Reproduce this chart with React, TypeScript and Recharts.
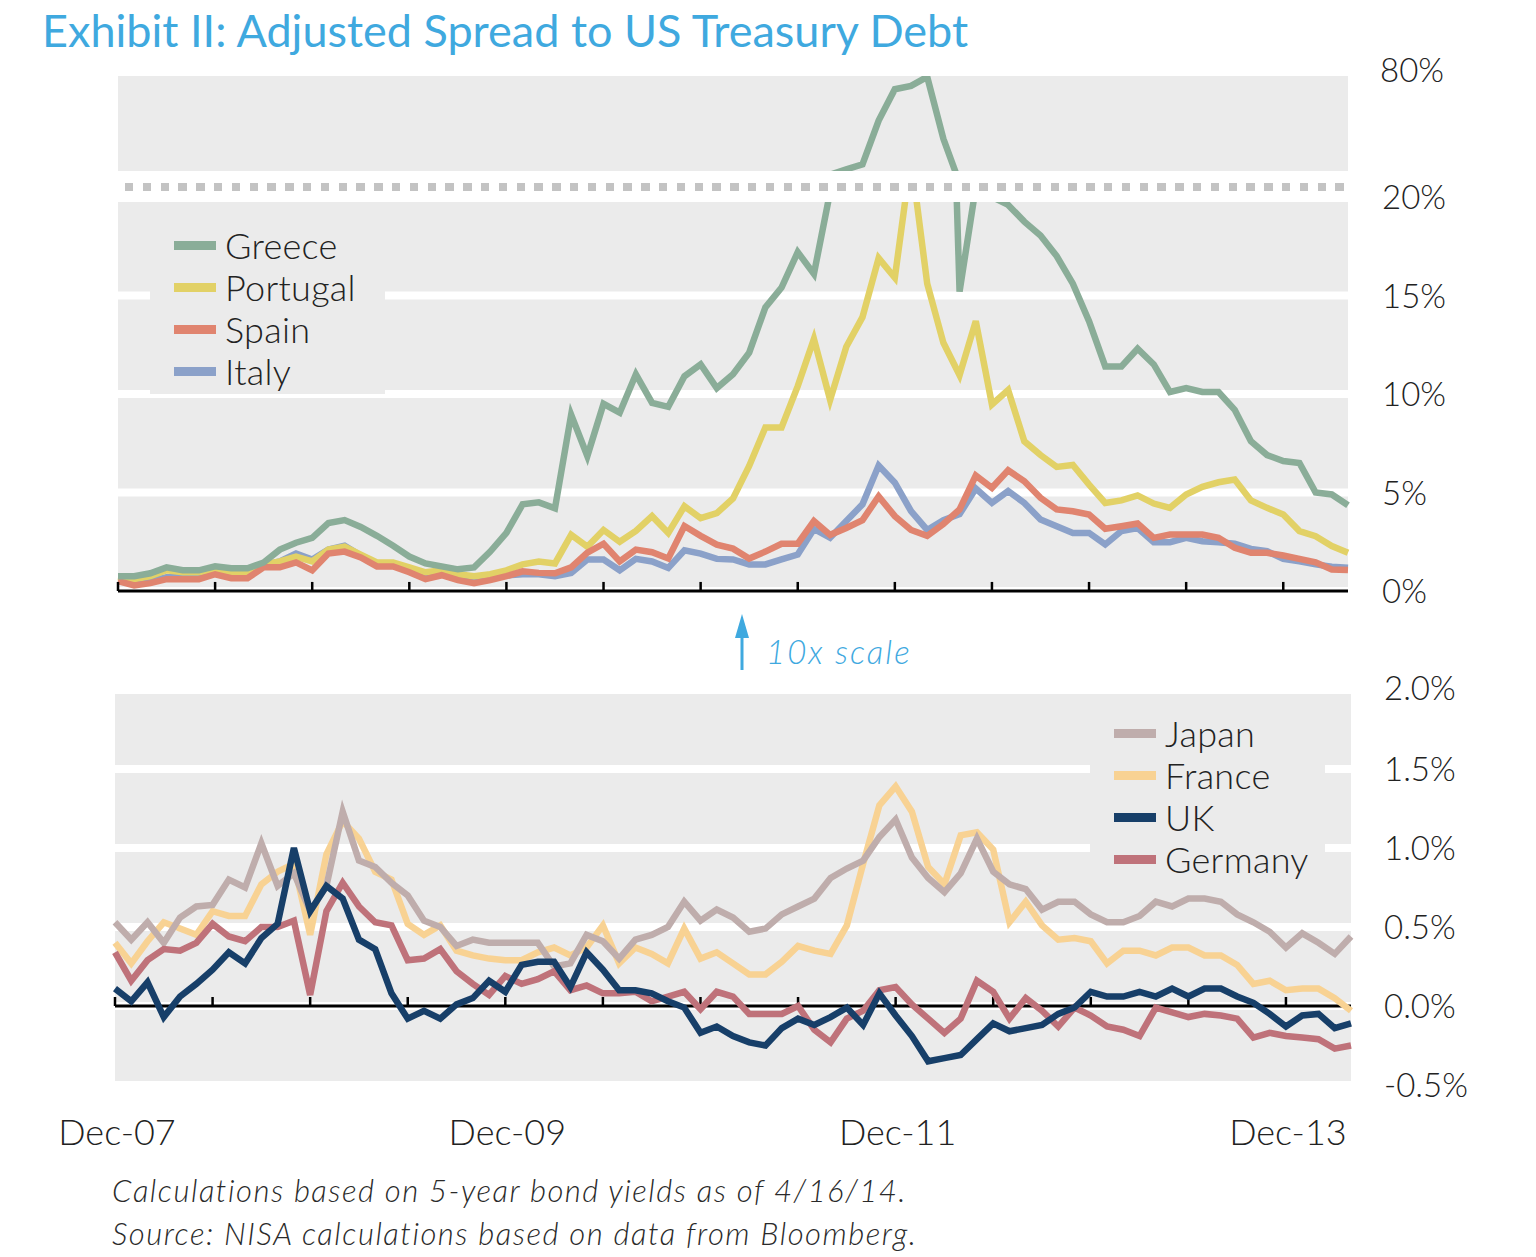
import React from 'react';
import { LineChart, Line, XAxis, YAxis, CartesianGrid, ReferenceLine, Legend } from 'recharts';

// monthly observations, Dec-07 (index 0) .. Apr-14 (index 76)
const xTickIdx = [0, 24, 48, 72];
const xTickLabels = ['Dec-07', 'Dec-09', 'Dec-11', 'Dec-13'];
const halfYearIdx = [0, 6, 12, 18, 24, 30, 36, 42, 48, 54, 60, 66, 72];

const topTicks = [0, 5, 10, 15, 20];
const breakTicks = [80];
const bottomTicks = [-0.5, 0, 0.5, 1, 1.5, 2];

// spreads in % (periphery)
const greece = [
  0.75, 0.75, 0.9, 1.2, 1.05, 1.05, 1.25, 1.15, 1.15, 1.45,
  2.1, 2.45, 2.7, 3.45, 3.6, 3.25, 2.8, 2.3, 1.75, 1.4,
  1.25, 1.1, 1.2, 2.0, 2.95, 4.4, 4.5, 4.2, 8.95, 6.85,
  9.5, 9.05, 11.0, 9.55, 9.35, 10.9, 11.5, 10.3, 11.0, 12.1,
  14.4, 15.4, 17.2, 16.1, 20.25, 23.5, 26.5, 53, 72, 74,
  79.5, 42, 15.2, 20.5, 20.0, 19.6, 18.75, 18.05, 17.0, 15.6,
  13.7, 11.4, 11.4, 12.3, 11.5, 10.1, 10.3, 10.1, 10.1, 9.2,
  7.6, 6.9, 6.6, 6.5, 5.0, 4.9, 4.35,
];
const portugal = [
  0.7, 0.6, 0.75, 1.05, 0.95, 0.95, 1.1, 0.97, 0.97, 1.35,
  1.5, 1.75, 1.5, 2.1, 2.25, 1.85, 1.45, 1.45, 1.2, 0.95,
  1.05, 0.85, 0.75, 0.85, 1.05, 1.35, 1.5, 1.4, 2.85, 2.25,
  3.1, 2.5, 3.05, 3.8, 2.95, 4.3, 3.7, 3.95, 4.7, 6.35,
  8.3, 8.3, 10.4, 12.8, 9.7, 12.4, 13.9, 16.9, 15.9, 22,
  15.6, 12.6, 10.95, 13.7, 9.47, 10.2, 7.6, 6.9, 6.3, 6.4,
  5.4, 4.47, 4.6, 4.85, 4.44, 4.22, 4.9, 5.29, 5.52, 5.66,
  4.6, 4.22, 3.88, 3.04, 2.78, 2.28, 1.94,
];
const spain = [
  0.5, 0.28, 0.4, 0.6, 0.6, 0.6, 0.85, 0.65, 0.65, 1.2,
  1.2, 1.45, 1.05, 1.9, 2.0, 1.7, 1.25, 1.25, 0.95, 0.6,
  0.8, 0.55, 0.4, 0.55, 0.75, 1.0, 0.92, 0.9, 1.2, 1.95,
  2.4, 1.5, 2.1, 1.97, 1.65, 3.3, 2.8, 2.35, 2.15, 1.65,
  2.0, 2.4, 2.4, 3.55, 2.85, 3.2, 3.6, 4.8, 3.8, 3.1,
  2.8, 3.4, 4.14, 5.86, 5.24, 6.13, 5.57, 4.73, 4.14, 4.05,
  3.88, 3.16, 3.29, 3.43, 2.7, 2.87, 2.87, 2.87, 2.7, 2.19,
  1.94, 1.94, 1.8, 1.63, 1.46, 1.09, 1.06,
];
const italy = [
  0.5, 0.4, 0.5, 0.7, 0.7, 0.7, 0.9, 0.75, 0.75, 1.3,
  1.5, 1.9, 1.6, 2.1, 2.3, 1.8, 1.3, 1.3, 1.1, 0.8,
  0.9, 0.7, 0.6, 0.65, 0.8, 0.85, 0.85, 0.75, 0.92, 1.6,
  1.6, 1.05, 1.63, 1.5, 1.17, 2.07, 1.9, 1.63, 1.6, 1.35,
  1.35, 1.6, 1.85, 3.15, 2.7, 3.55, 4.4, 6.37, 5.5, 4.05,
  3.1, 3.6, 3.9, 5.2, 4.47, 5.07, 4.47, 3.63, 3.29, 2.95,
  2.95, 2.36, 3.04, 3.2, 2.48, 2.48, 2.7, 2.53, 2.48, 2.4,
  2.14, 2.02, 1.63, 1.51, 1.35, 1.23, 1.18,
];

// spreads in % (core)
const japan = [
  0.53, 0.42, 0.53, 0.4, 0.56, 0.63, 0.64, 0.8, 0.75, 1.03,
  0.76, 0.84, 0.6, 0.76, 1.23, 0.92, 0.88, 0.78, 0.7, 0.54,
  0.5, 0.38, 0.42, 0.4, 0.4, 0.4, 0.4, 0.25, 0.27, 0.45,
  0.41, 0.3, 0.42, 0.45, 0.5, 0.66, 0.54, 0.61, 0.56, 0.47,
  0.49, 0.58, 0.63, 0.68, 0.81, 0.87, 0.92, 1.07, 1.18, 0.94,
  0.81, 0.72, 0.84, 1.06, 0.85, 0.77, 0.74, 0.61, 0.66, 0.66,
  0.58, 0.53, 0.53, 0.57, 0.66, 0.63, 0.68, 0.68, 0.66, 0.58,
  0.53, 0.47, 0.37, 0.46, 0.4, 0.33, 0.44,
];
const france = [
  0.4, 0.27, 0.41, 0.53, 0.49, 0.45, 0.6, 0.57, 0.57, 0.77,
  0.85, 0.9, 0.45, 0.96, 1.17, 1.06, 0.85, 0.8, 0.52, 0.45,
  0.51, 0.35, 0.32, 0.3, 0.29, 0.29, 0.34, 0.37, 0.32, 0.37,
  0.51, 0.27, 0.37, 0.33, 0.27, 0.49, 0.3, 0.34, 0.27, 0.2,
  0.2, 0.28, 0.38, 0.35, 0.33, 0.51, 0.9, 1.27, 1.39, 1.23,
  0.88, 0.77, 1.08, 1.1, 0.99, 0.53, 0.66, 0.51, 0.42, 0.43,
  0.41, 0.27, 0.35, 0.35, 0.32, 0.37, 0.37, 0.32, 0.32, 0.26,
  0.14, 0.16, 0.1, 0.11, 0.11, 0.05, -0.03,
];
const uk = [
  0.11, 0.03, 0.15, -0.07, 0.06, 0.14, 0.23, 0.34, 0.27, 0.43,
  0.52, 1.0, 0.6, 0.76, 0.68, 0.42, 0.36, 0.08, -0.08, -0.03,
  -0.08, 0.01, 0.05, 0.16, 0.09, 0.26, 0.28, 0.28, 0.12, 0.34,
  0.23, 0.1, 0.1, 0.08, 0.03, -0.01, -0.17, -0.13, -0.19, -0.23,
  -0.25, -0.14, -0.08, -0.12, -0.07, -0.01, -0.12, 0.08, -0.06, -0.19,
  -0.35, -0.33, -0.31, -0.21, -0.11, -0.16, -0.14, -0.12, -0.05, -0.01,
  0.09, 0.06, 0.06, 0.09, 0.06, 0.11, 0.06, 0.11, 0.11, 0.06,
  0.02, -0.05, -0.13, -0.06, -0.05, -0.14, -0.11,
];
const germany = [
  0.34, 0.16, 0.29, 0.36, 0.35, 0.4, 0.52, 0.44, 0.41, 0.5,
  0.5, 0.54, 0.07, 0.6, 0.78, 0.63, 0.53, 0.51, 0.29, 0.3,
  0.36, 0.22, 0.14, 0.07, 0.19, 0.14, 0.17, 0.22, 0.1, 0.13,
  0.08, 0.08, 0.09, 0.03, 0.06, 0.09, -0.02, 0.09, 0.06, -0.05,
  -0.05, -0.05, 0, -0.15, -0.23, -0.08, -0.03, 0.1, 0.12, 0.01,
  -0.08, -0.17, -0.08, 0.16, 0.09, -0.08, 0.05, -0.03, -0.13, -0.01,
  -0.06, -0.13, -0.15, -0.19, -0.01, -0.04, -0.07, -0.05, -0.06, -0.08,
  -0.2, -0.17, -0.19, -0.2, -0.21, -0.27, -0.25,
];

const periphery = [
  { key: 'greece', name: 'Greece', color: '#8aad98' },
  { key: 'portugal', name: 'Portugal', color: '#e2d166' },
  { key: 'spain', name: 'Spain', color: '#e0846f' },
  { key: 'italy', name: 'Italy', color: '#8ba1c9' },
];
const core = [
  { key: 'japan', name: 'Japan', color: '#bfadac' },
  { key: 'france', name: 'France', color: '#f8d293' },
  { key: 'uk', name: 'UK', color: '#173f69' },
  { key: 'germany', name: 'Germany', color: '#bf727a' },
];

const rows = greece.map((g, i) => ({
  i,
  greece: g,
  portugal: portugal[i],
  spain: spain[i],
  italy: italy[i],
  japan: japan[i],
  france: france[i],
  uk: uk[i],
  germany: germany[i],
}));

const FONT = 'Lato, "Open Sans", sans-serif';
const GREY = '#ebebeb';
const BLUE = '#3fa9df';
const INK = '#222';
const LW = 6.5;

const colorOf = (list: any[], key: string) => list.find((s) => s.key === key).color;

const LegendBox = ({ items }: { items: any[] }) => (
  <div style={{ background: GREY, width: 235, height: 182, boxSizing: 'border-box', paddingTop: 12, paddingLeft: 24 }}>
    {items.map((it) => (
      <div key={it.key} style={{ display: 'flex', alignItems: 'center', height: 42, overflow: 'visible' }}>
        <span style={{ display: 'inline-block', flex: 'none', width: 42, height: 9, background: it.color, marginRight: 9 }} />
        <span style={{ fontFamily: FONT, fontWeight: 300, fontSize: 36, color: INK, lineHeight: '42px', whiteSpace: 'nowrap', letterSpacing: 0.3 }}>
          {it.name}
        </span>
      </div>
    ))}
  </div>
);

const rightTick = (shift: number, fmt: (v: number) => string, dyOf: (v: number) => number) => (p: any) => (
  <text x={p.x + shift} y={p.y} dy={dyOf(p.payload.value)} fill={INK} fontFamily={FONT} fontWeight={300} fontSize={33} textAnchor="start">
    {fmt(p.payload.value)}
  </text>
);

const bottomTick = (p: any) => {
  const k = xTickIdx.indexOf(p.payload.value);
  return (
    <text x={p.x + 2} y={p.y + 60} fill={INK} fontFamily={FONT} fontWeight={300} fontSize={36} textAnchor="middle">
      {xTickLabels[k]}
    </text>
  );
};

export default function App() {
  const topFmt = (v: number) => `${v}%`;
  const botFmt = (v: number) => `${v.toFixed(1)}%`;

  return (
    <div style={{ position: 'absolute', left: 0, top: 0, width: 1536, height: 1257, background: '#fff', overflow: 'hidden' }}>
      <div style={{ position: 'absolute', left: 42, top: 4, fontFamily: FONT, fontSize: 45, lineHeight: '52px', color: BLUE, whiteSpace: 'nowrap' }}>
        Exhibit II: Adjusted Spread to US Treasury Debt
      </div>

      {/* top panel, 0-20% section */}
      <div style={{ position: 'absolute', left: 0, top: 0 }}>
        <LineChart width={1536} height={640} data={rows} margin={{ top: 171, right: 0, bottom: 49, left: 118 }}>
          <CartesianGrid vertical={false} stroke="#fff" strokeWidth={8} fill={GREY} fillOpacity={1} />
          <XAxis dataKey="i" type="number" domain={[0, 76]} hide />
          <YAxis
            orientation="right"
            width={188}
            type="number"
            domain={[0, 21.32]}
            ticks={topTicks}
            allowDataOverflow
            axisLine={false}
            tickLine={false}
            tickSize={0}
            tickMargin={0}
            tick={rightTick(34, topFmt, () => 12)}
          />
          <Line dataKey="italy" stroke={colorOf(periphery, 'italy')} strokeWidth={LW} dot={false} activeDot={false} isAnimationActive={false} />
          <Line dataKey="portugal" stroke={colorOf(periphery, 'portugal')} strokeWidth={LW} dot={false} activeDot={false} isAnimationActive={false} />
          <Line dataKey="spain" stroke={colorOf(periphery, 'spain')} strokeWidth={LW} dot={false} activeDot={false} isAnimationActive={false} />
          <Line dataKey="greece" stroke={colorOf(periphery, 'greece')} strokeWidth={LW} dot={false} activeDot={false} isAnimationActive={false} />
          <ReferenceLine y={0} stroke="#000" strokeWidth={3} />
          {halfYearIdx.map((t) => (
            <ReferenceLine key={t} segment={[{ x: t, y: 0 }, { x: t, y: 0.46 }]} stroke="#000" strokeWidth={2.5} />
          ))}
          <Legend
            layout="vertical"
            align="center"
            verticalAlign="middle"
            wrapperStyle={{ left: 150, top: 212, width: 235, height: 182 }}
            content={() => <LegendBox items={periphery} />}
          />
        </LineChart>
      </div>

      {/* top panel, compressed section above the break */}
      <div style={{ position: 'absolute', left: 0, top: 0 }}>
        <LineChart width={1536} height={171} data={rows} margin={{ top: 76, right: 0, bottom: 0, left: 118 }}>
          <CartesianGrid vertical={false} horizontal={false} fill={GREY} fillOpacity={1} />
          <XAxis dataKey="i" type="number" domain={[0, 76]} hide />
          <YAxis
            orientation="right"
            width={188}
            type="number"
            domain={[22.5, 80]}
            ticks={breakTicks}
            allowDataOverflow
            axisLine={false}
            tickLine={false}
            tickSize={0}
            tickMargin={0}
            tick={rightTick(32, topFmt, () => 6)}
          />
          <Line dataKey="greece" stroke={colorOf(periphery, 'greece')} strokeWidth={LW} dot={false} activeDot={false} isAnimationActive={false} />
        </LineChart>
      </div>

      {/* scale break */}
      <div style={{ position: 'absolute', left: 118, top: 171, width: 1230, height: 31, background: '#fff' }}>
        <div
          style={{
            position: 'absolute',
            left: 7,
            top: 12,
            width: 1220,
            height: 8,
            backgroundImage: 'repeating-linear-gradient(to right, #c3c3c3 0px, #c3c3c3 8.5px, transparent 8.5px, transparent 17.8px)',
          }}
        />
      </div>

      {/* 10x scale note */}
      <svg style={{ position: 'absolute', left: 733, top: 612 }} width={20} height={60}>
        <polygon points="9,2 2,26 16,26" fill={BLUE} />
        <line x1={9} y1={22} x2={9} y2={58} stroke={BLUE} strokeWidth={3} />
      </svg>
      <div style={{ position: 'absolute', left: 766, top: 630, fontFamily: FONT, fontStyle: 'italic', fontWeight: 300, fontSize: 33, letterSpacing: 2, lineHeight: '42px', color: BLUE, whiteSpace: 'nowrap' }}>
        10x scale
      </div>

      {/* bottom panel */}
      <div style={{ position: 'absolute', left: 0, top: 640 }}>
        <LineChart width={1536} height={520} data={rows} margin={{ top: 50, right: 0, bottom: 0, left: 115 }}>
          <CartesianGrid vertical={false} stroke="#fff" strokeWidth={8} fill={GREY} fillOpacity={1} />
          <XAxis
            dataKey="i"
            type="number"
            domain={[0, 76]}
            ticks={xTickIdx}
            interval={0}
            height={75}
            axisLine={false}
            tickLine={false}
            tickSize={0}
            tickMargin={0}
            tick={bottomTick}
          />
          <YAxis
            orientation="right"
            width={185}
            type="number"
            domain={[-0.5, 2]}
            ticks={bottomTicks}
            allowDataOverflow
            axisLine={false}
            tickLine={false}
            tickSize={0}
            tickMargin={0}
            tick={rightTick(33, botFmt, (v) => (v === 2 ? 10 : 12))}
          />
          <ReferenceLine y={0} stroke="#000" strokeWidth={3} />
          {halfYearIdx.map((t) => (
            <ReferenceLine key={t} segment={[{ x: t, y: 0 }, { x: t, y: 0.057 }]} stroke="#000" strokeWidth={2.5} />
          ))}
          <Line dataKey="france" stroke={colorOf(core, 'france')} strokeWidth={LW} dot={false} activeDot={false} isAnimationActive={false} />
          <Line dataKey="japan" stroke={colorOf(core, 'japan')} strokeWidth={LW} dot={false} activeDot={false} isAnimationActive={false} />
          <Line dataKey="germany" stroke={colorOf(core, 'germany')} strokeWidth={LW} dot={false} activeDot={false} isAnimationActive={false} />
          <Line dataKey="uk" stroke={colorOf(core, 'uk')} strokeWidth={LW} dot={false} activeDot={false} isAnimationActive={false} />
          <Legend
            layout="vertical"
            align="center"
            verticalAlign="middle"
            wrapperStyle={{ left: 1090, top: 60, width: 235, height: 182 }}
            content={() => <LegendBox items={core} />}
          />
        </LineChart>
      </div>

      <div style={{ position: 'absolute', left: 112, top: 1170, fontFamily: FONT, fontStyle: 'italic', fontWeight: 300, fontSize: 31, letterSpacing: 1.5, lineHeight: '40px', color: '#2a2a2a', whiteSpace: 'nowrap' }}>
        Calculations based on 5-year bond yields as of 4/16/14.
      </div>
      <div style={{ position: 'absolute', left: 112, top: 1213, fontFamily: FONT, fontStyle: 'italic', fontWeight: 300, fontSize: 31, letterSpacing: 1.5, lineHeight: '40px', color: '#2a2a2a', whiteSpace: 'nowrap' }}>
        Source: NISA calculations based on data from Bloomberg.
      </div>
    </div>
  );
}
